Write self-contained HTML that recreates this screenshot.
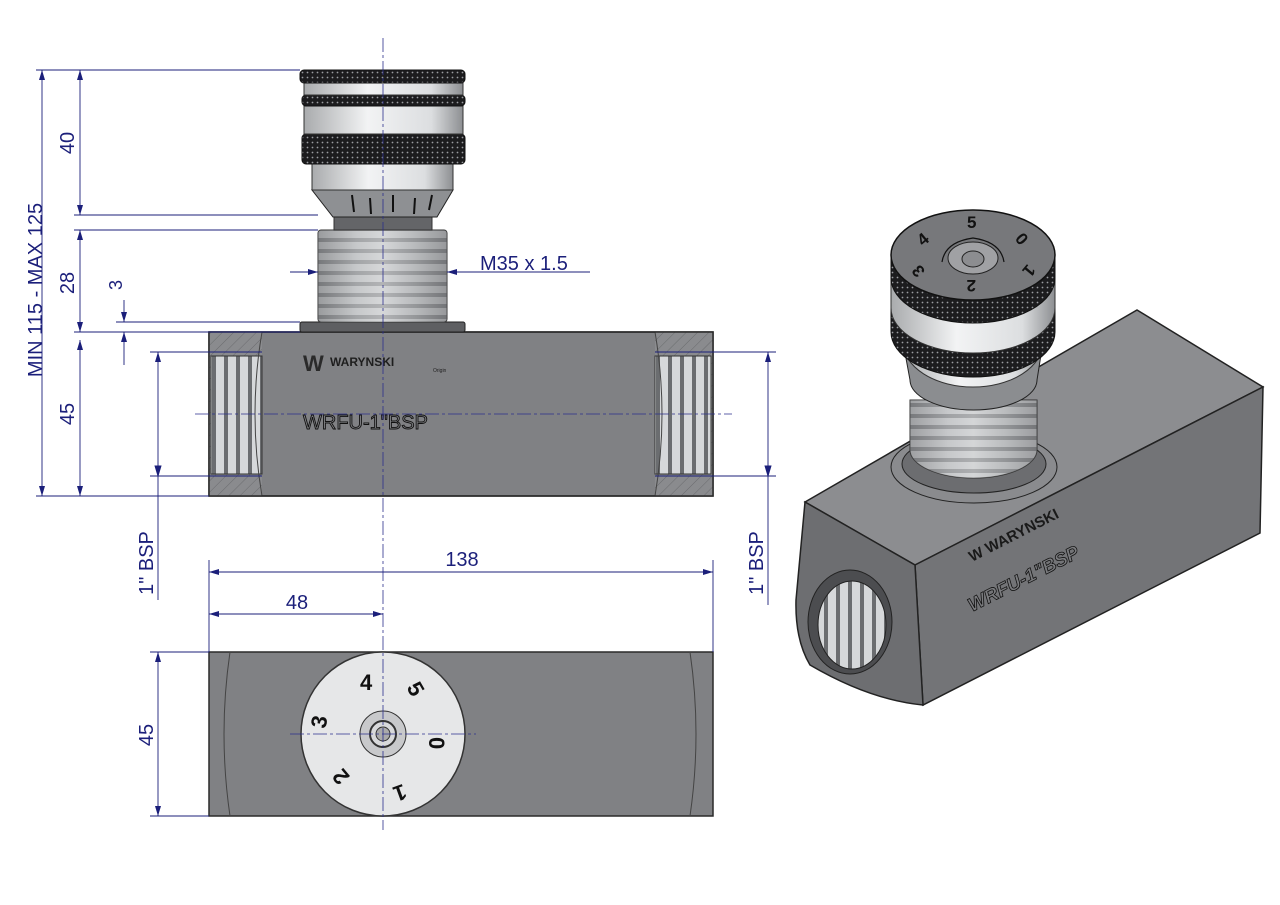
<!DOCTYPE html>
<html><head><meta charset="utf-8"><style>
html,body{margin:0;padding:0;background:#fff;}
svg{display:block}
text{font-family:"Liberation Sans",sans-serif;}
</style></head><body>
<svg width="1280" height="905" viewBox="0 0 1280 905" xmlns="http://www.w3.org/2000/svg">
<defs>
<marker id="a" viewBox="0 0 10 6" refX="10" refY="3" markerWidth="10" markerHeight="6" orient="auto-start-reverse" markerUnits="userSpaceOnUse"><path d="M0,0 L10,3 L0,6 z" fill="#1b1f7a"/></marker>
<linearGradient id="thr" x1="0" x2="1"><stop offset="0" stop-color="#6f7073"/><stop offset=".3" stop-color="#c9cbcd"/><stop offset=".5" stop-color="#e8e9ea"/><stop offset=".75" stop-color="#aeb0b2"/><stop offset="1" stop-color="#6a6b6e"/></linearGradient>
<linearGradient id="lt" x1="0" x2="1"><stop offset="0" stop-color="#a9abad"/><stop offset=".4" stop-color="#f2f3f4"/><stop offset=".8" stop-color="#dcdee0"/><stop offset="1" stop-color="#8d8f92"/></linearGradient>
<pattern id="rib" width="10" height="11" patternUnits="userSpaceOnUse"><rect width="10" height="11" fill="#c4c6c8"/><rect y="7" width="10" height="4" fill="#7d7f82"/></pattern>
<pattern id="vrib" width="12" height="10" patternUnits="userSpaceOnUse"><rect width="12" height="10" fill="#d6d8da"/><rect x="8" width="4" height="10" fill="#6b6d70"/></pattern>
<pattern id="hat" width="8" height="8" patternUnits="userSpaceOnUse" patternTransform="rotate(45)"><rect width="8" height="8" fill="#8a8b8e"/><line x1="0" y1="0" x2="0" y2="8" stroke="#6a6b6e" stroke-width="1"/></pattern>
<pattern id="knurl" width="5" height="5" patternUnits="userSpaceOnUse"><rect width="5" height="5" fill="#1c1c1e"/><circle cx="2.5" cy="2.5" r="0.9" fill="#9a9ca0"/></pattern>
</defs>

<!-- FRONT VIEW body -->
<rect x="209" y="332" width="504" height="164" fill="#808184" stroke="#2a2a2a" stroke-width="1.5"/>
<rect x="209" y="332" width="53" height="164" fill="url(#hat)"/>
<rect x="655" y="332" width="58" height="164" fill="url(#hat)"/>
<rect x="211" y="356" width="51" height="118" fill="url(#vrib)" stroke="#333"/>
<rect x="655" y="356" width="56" height="118" fill="url(#vrib)" stroke="#333"/>
<path d="M262,332 Q248,414 262,496" fill="none" stroke="#444"/>
<path d="M655,332 Q669,414 655,496" fill="none" stroke="#444"/>
<rect x="209" y="332" width="504" height="164" fill="none" stroke="#2a2a2a" stroke-width="1.5"/>
<text x="303" y="371" font-size="22" font-weight="bold" fill="#2a2a2a">W</text>
<text x="330" y="366" font-size="12" font-weight="bold" fill="#1e1e1e">WARYNSKI</text>
<text x="433" y="372" font-size="5" fill="#222">Origin</text>
<text x="303" y="429" font-size="20" fill="#808184" stroke="#111" stroke-width="0.9">WRFU-1"BSP</text>

<!-- nut, thread, knob -->
<rect x="300" y="322" width="165" height="10" rx="2" fill="#5e5f62" stroke="#222"/>
<rect x="318" y="230" width="129" height="92" rx="3" fill="url(#rib)" stroke="#333"/>
<rect x="318" y="230" width="129" height="92" rx="3" fill="url(#thr)" opacity=".5"/>
<rect x="334" y="217" width="98" height="13" fill="#646568" stroke="#333"/>
<path d="M312,190 L453,190 L437,217 L333,217 Z" fill="#8e9093" stroke="#222"/>
<rect x="312" y="164" width="141" height="26" fill="url(#lt)" stroke="#333"/>
<rect x="302" y="134" width="163" height="30" rx="4" fill="url(#knurl)" stroke="#111"/>
<rect x="304" y="106" width="159" height="28" fill="url(#lt)" stroke="#333"/>
<rect x="302" y="95" width="163" height="11" rx="4" fill="url(#knurl)" stroke="#111"/>
<rect x="304" y="83" width="159" height="12" fill="url(#lt)" stroke="#333"/>
<rect x="300" y="70" width="165" height="13" rx="4" fill="url(#knurl)" stroke="#111"/>
<g stroke="#111" stroke-width="2"><line x1="352" y1="195" x2="354" y2="212"/><line x1="370" y1="198" x2="371" y2="214"/><line x1="393" y1="195" x2="393" y2="212"/><line x1="415" y1="198" x2="414" y2="214"/><line x1="432" y1="195" x2="429" y2="210"/></g>

<!-- TOP VIEW -->
<rect x="209" y="652" width="504" height="164" fill="#808184" stroke="#2a2a2a" stroke-width="1.5"/>
<path d="M230,652 Q218,734 230,816" fill="none" stroke="#444"/>
<path d="M690,652 Q702,734 690,816" fill="none" stroke="#444"/>
<circle cx="383" cy="734" r="82" fill="#e6e7e8" stroke="#333" stroke-width="1.5"/>
<circle cx="383" cy="734" r="23" fill="#c8c9cb" stroke="#333"/>
<circle cx="383" cy="734" r="13" fill="#d8d9db" stroke="#333" stroke-width="2"/>
<circle cx="383" cy="734" r="7" fill="#aaa" stroke="#333"/>
<g font-size="22" font-weight="bold" fill="#111">
<text x="360" y="690">4</text>
<text x="408" y="700" transform="rotate(60 418 692)">5</text>
<text x="428" y="752" transform="rotate(90 436 745)">0</text>
<text x="390" y="800" transform="rotate(160 398 793)">1</text>
<text x="332" y="782" transform="rotate(-130 340 775)">2</text>
<text x="312" y="727" transform="rotate(-80 320 720)">3</text>
</g>

<!-- ISO VIEW -->
<polygon points="805,502 1137,310 1263,387 915,565" fill="#8c8d90" stroke="#222" stroke-width="1.5"/>
<polygon points="915,565 1263,387 1260,533 923,705" fill="#737477" stroke="#222" stroke-width="1.5"/>
<path d="M805,502 L915,565 L923,705 Q870,700 810,665 Q795,640 796,600 Z" fill="#6d6e71" stroke="#222" stroke-width="1.5"/>
<ellipse cx="850" cy="622" rx="42" ry="52" fill="#4c4d50" stroke="#222"/>
<ellipse cx="852" cy="625" rx="34" ry="44" fill="url(#vrib)" stroke="#222"/>
<text x="972" y="562" font-size="15" font-weight="bold" fill="#1a1a1a" transform="rotate(-27 972 562)">W WARYNSKI</text>
<text x="972" y="612" font-size="19" font-style="italic" font-weight="bold" fill="#7a7b7e" stroke="#111" stroke-width="0.8" transform="rotate(-27 972 612)">WRFU-1"BSP</text>

<!-- flange -->
<ellipse cx="974" cy="467" rx="83" ry="36" fill="#8a8b8e" stroke="#222"/>
<ellipse cx="974" cy="464" rx="72" ry="29" fill="#6c6d70" stroke="#222"/>
<!-- thread -->
<path d="M910,400 L1037,400 L1037,450 A63.5,28 0 0 1 910,450 Z" fill="url(#rib)" stroke="#333"/>
<path d="M910,400 L1037,400 L1037,450 A63.5,28 0 0 1 910,450 Z" fill="url(#thr)" opacity=".45"/>
<!-- cone -->
<path d="M903,342 L1043,342 L1037,380 A63.5,30 0 0 1 910,380 Z" fill="#8b8d90" stroke="#222"/>
<!-- lower light -->
<path d="M903,330 L1043,330 L1043,342 A70,45 0 0 1 903,342 Z" fill="url(#lt)" stroke="#333"/>
<!-- lower knurl -->
<path d="M891,308 L1055,308 L1055,332 A82,45 0 0 1 891,332 Z" fill="url(#knurl)" stroke="#111"/>
<!-- light band -->
<path d="M891,278 L1055,278 L1055,308 A82,45 0 0 1 891,308 Z" fill="url(#lt)" stroke="#333"/>
<!-- upper knurl -->
<path d="M891,255 L1055,255 L1055,278 A82,45 0 0 1 891,278 Z" fill="url(#knurl)" stroke="#111"/>
<!-- cap -->
<ellipse cx="973" cy="255" rx="82" ry="45" fill="#77787b" stroke="#111" stroke-width="1.5"/>
<ellipse cx="973" cy="258" rx="25" ry="16" fill="#a0a1a4" stroke="#222"/>
<ellipse cx="973" cy="259" rx="11" ry="8" fill="#8c8d90" stroke="#222"/>
<path d="M942,262 Q945,242 973,238 Q1001,242 1004,262" fill="none" stroke="#111" stroke-width="1.2"/>
<g font-size="17" font-weight="bold" fill="#111">
<text x="967" y="228">5</text><text x="918" y="245" transform="rotate(-40 923 239)">4</text>
<text x="1017" y="245" transform="rotate(50 1022 239)">0</text>
<text x="913" y="277" transform="rotate(-130 918 271)">3</text>
<text x="1024" y="277" transform="rotate(130 1029 271)">1</text>
<text x="966" y="292" transform="rotate(180 971 286)">2</text>
</g>

<!-- center lines -->
<g stroke="#2b2f8c" stroke-width="0.8" stroke-dasharray="14,3,3,3" fill="none">
<line x1="383" y1="38" x2="383" y2="830"/>
<line x1="195" y1="414" x2="732" y2="414"/>
<line x1="290" y1="734" x2="476" y2="734"/>
</g>

<!-- dimensions -->
<g stroke="#1b1f7a" stroke-width="0.9" fill="none">
<line x1="36" y1="70" x2="300" y2="70"/>
<line x1="74" y1="215" x2="318" y2="215"/>
<line x1="74" y1="230" x2="318" y2="230"/>
<line x1="116" y1="322" x2="300" y2="322"/>
<line x1="74" y1="332" x2="300" y2="332"/>
<line x1="36" y1="496" x2="209" y2="496"/>
<line x1="150" y1="352" x2="262" y2="352"/>
<line x1="150" y1="476" x2="262" y2="476"/>
<line x1="655" y1="352" x2="776" y2="352"/>
<line x1="655" y1="476" x2="776" y2="476"/>
<line x1="42" y1="70" x2="42" y2="496" marker-start="url(#a)" marker-end="url(#a)"/>
<line x1="80" y1="70" x2="80" y2="215" marker-start="url(#a)" marker-end="url(#a)"/>
<line x1="80" y1="230" x2="80" y2="332" marker-start="url(#a)" marker-end="url(#a)"/>
<line x1="80" y1="340" x2="80" y2="496" marker-start="url(#a)" marker-end="url(#a)"/>
<line x1="124" y1="300" x2="124" y2="322" marker-end="url(#a)"/>
<line x1="124" y1="365" x2="124" y2="332" marker-end="url(#a)"/>
<line x1="158" y1="352" x2="158" y2="600" marker-start="url(#a)"/>
<line x1="768" y1="352" x2="768" y2="605" marker-start="url(#a)"/>
<path d="M158,476 l-3,-10 l6,0 z" fill="#1b1f7a"/>
<path d="M768,476 l-3,-10 l6,0 z" fill="#1b1f7a"/>
<line x1="290" y1="272" x2="318" y2="272" marker-end="url(#a)"/>
<line x1="590" y1="272" x2="447" y2="272" marker-end="url(#a)"/>
<line x1="209" y1="560" x2="209" y2="652"/>
<line x1="713" y1="560" x2="713" y2="652"/>
<line x1="209" y1="572" x2="713" y2="572" marker-start="url(#a)" marker-end="url(#a)"/>
<line x1="209" y1="614" x2="383" y2="614" marker-start="url(#a)" marker-end="url(#a)"/>
<line x1="150" y1="652" x2="209" y2="652"/>
<line x1="150" y1="816" x2="209" y2="816"/>
<line x1="158" y1="652" x2="158" y2="816" marker-start="url(#a)" marker-end="url(#a)"/>
</g>
<g fill="#1b1f7a" font-size="20">
<text transform="translate(42,290) rotate(-90)" text-anchor="middle">MIN 115 - MAX 125</text>
<text transform="translate(74,143) rotate(-90)" text-anchor="middle">40</text>
<text transform="translate(74,283) rotate(-90)" text-anchor="middle">28</text>
<text transform="translate(122,285) rotate(-90)" text-anchor="middle" font-size="18">3</text>
<text transform="translate(74,414) rotate(-90)" text-anchor="middle">45</text>
<text transform="translate(153,563) rotate(-90)" text-anchor="middle">1" BSP</text>
<text transform="translate(763,563) rotate(-90)" text-anchor="middle">1" BSP</text>
<text transform="translate(153,735) rotate(-90)" text-anchor="middle">45</text>
<text x="480" y="270">M35  x 1.5</text>
<text x="462" y="566" text-anchor="middle">138</text>
<text x="297" y="609" text-anchor="middle">48</text>
</g>
</svg>
</body></html>
